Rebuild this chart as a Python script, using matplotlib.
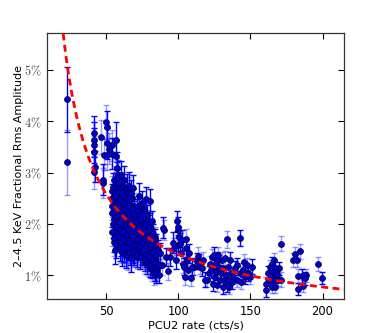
import numpy as np
import matplotlib
matplotlib.use("Agg")
import matplotlib.pyplot as plt

plt.rcParams['mathtext.fontset'] = 'cm'

# ---- data (rate in cts/s, rms in %) ; columns: (rate, [rms values], rms error)
dark_cols = [
    (22.9, [4.43], 0.63),
    (41.6, [3.77, 3.64, 3.53], 0.34),
    (41.8, [3.12], 0.30),
    (47.5, [2.86], 0.30),
    (50.2, [3.88], 0.32),
    (50.5, [3.57], 0.30),
    (53.6, [3.37], 0.30),
    (57.0, [3.63], 0.35),
    (57.3, [3.10], 0.30),
    (53.8, [2.50, 2.22], 0.28), (54.5, [2.72, 2.00], 0.28), (55.2, [2.45, 1.72], 0.26),
    (55.8, [2.60, 2.30, 1.50], 0.28), (56.5, [2.55, 1.95, 1.60], 0.27), (57.2, [2.90, 2.40, 2.10], 0.30),
    (58.0, [2.80, 2.20, 1.80], 0.28), (58.8, [2.62, 2.05, 1.75], 0.27), (59.5, [2.45, 1.90, 1.55], 0.26),
    (60.3, [2.95, 2.25, 1.65], 0.28), (61.0, [2.60, 2.10, 1.45], 0.27), (61.8, [2.40, 1.85, 1.70], 0.26),
    (62.5, [2.85, 2.30, 1.55], 0.28), (63.3, [2.50, 2.00, 1.40], 0.26), (64.0, [2.70, 2.15, 1.80], 0.27),
    (64.8, [2.35, 1.90, 1.55], 0.25), (65.5, [2.75, 2.20, 1.65], 0.27), (66.3, [2.50, 2.00, 1.45], 0.25),
    (67.0, [2.60, 1.80, 1.33], 0.26), (67.8, [2.30, 2.05, 1.60], 0.25), (68.5, [2.70, 1.90, 1.50], 0.26),
    (69.5, [2.20, 1.75, 1.45], 0.24), (70.5, [2.05, 1.85, 1.60], 0.24), (71.5, [2.25, 1.70, 1.40], 0.24),
    (72.5, [2.55, 1.95, 1.55], 0.25), (73.5, [2.10, 1.80, 1.35], 0.23), (74.5, [2.40, 1.65, 1.45], 0.24),
    (75.5, [2.20, 1.90, 1.50], 0.23), (76.5, [2.00, 1.70, 1.30], 0.22), (77.5, [2.48, 1.85, 1.40], 0.24),
    (78.5, [2.15, 1.60, 1.25], 0.22), (79.5, [1.95, 1.75, 1.35], 0.22), (80.5, [2.45, 1.55, 1.20], 0.23),
    (81.5, [2.05, 1.65, 1.15], 0.21), (82.5, [1.80, 1.45, 1.30], 0.21), (83.5, [1.70, 1.25, 1.10], 0.20),
    (84.5, [1.60, 1.40, 1.05], 0.20), (85.5, [1.50, 1.20], 0.19),
    (86.8, [1.00], 0.15), (87.3, [1.43], 0.20), (89.6, [1.93], 0.20), (91.2, [1.36], 0.18),
    (94.2, [1.36], 0.18), (96.5, [1.64], 0.20), (98.1, [1.30], 0.18), (98.8, [2.06], 0.20),
    (100.0, [1.59, 1.94], 0.20), (101.1, [1.62], 0.20), (102.3, [1.69], 0.20), (103.9, [1.17], 0.17),
    (105.1, [1.53], 0.18), (105.8, [1.30], 0.17), (107.4, [1.43], 0.18), (109.3, [1.17], 0.16),
    (112.7, [1.28], 0.16), (114.6, [1.27], 0.15), (116.2, [1.14], 0.15),
    (118.5, [0.92], 0.14), (121.5, [1.04], 0.15), (122.7, [1.10], 0.15), (123.8, [0.84], 0.14),
    (124.8, [1.40], 0.16), (126.2, [1.07], 0.15), (127.1, [1.30], 0.15), (128.5, [1.17], 0.15),
    (129.4, [1.04], 0.14), (130.8, [0.78], 0.14), (131.7, [0.91], 0.14), (133.1, [1.00], 0.14),
    (133.6, [0.81], 0.14), (134.7, [0.91], 0.14), (135.8, [1.30], 0.15), (137.0, [0.88], 0.14),
    (139.3, [1.14], 0.14), (141.0, [1.20], 0.14), (142.8, [1.73], 0.15), (144.7, [1.10], 0.14),
    (146.3, [0.97], 0.14), (148.6, [1.04], 0.14), (150.9, [1.17], 0.14),
    (160.7, [0.71], 0.13), (162.5, [1.05], 0.13), (163.7, [0.92], 0.13), (164.8, [1.23, 1.09], 0.13),
    (166.0, [1.17, 0.88], 0.13), (167.1, [0.94], 0.13), (168.3, [1.00], 0.13), (170.1, [1.14], 0.13),
    (182.9, [0.74], 0.12), (185.7, [0.99], 0.13), (188.0, [0.94], 0.13), (199.6, [0.95], 0.12),
]

light_cols = [
    (22.9, [3.20], 0.63),
    (41.6, [3.01, 3.40], 0.32),
    (46.5, [3.69], 0.33),
    (48.0, [2.80], 0.30),
    (48.3, [3.35], 0.30),
    (49.5, [3.99], 0.32),
    (50.2, [3.35], 0.30),
    (51.5, [3.47], 0.30),
    (54.0, [3.53], 0.30),
    (57.0, [3.32], 0.30),
    (58.0, [2.95], 0.30),
    (54.2, [2.65, 2.35, 1.85], 0.28), (55.5, [2.85, 2.10, 1.65], 0.28), (56.8, [2.70, 2.25, 1.75], 0.28),
    (57.6, [2.50, 2.00], 0.27), (58.4, [2.95, 2.35, 1.90], 0.29), (59.2, [2.70, 2.15, 1.70], 0.27),
    (60.0, [2.55, 2.00, 1.50], 0.26), (60.7, [2.40, 1.80, 1.55], 0.26), (61.5, [2.75, 2.20, 1.60], 0.27),
    (62.2, [2.55, 1.95, 1.45], 0.26), (63.0, [2.65, 2.10, 1.75], 0.27), (63.7, [2.40, 1.85, 1.50], 0.25),
    (64.5, [2.55, 2.00, 1.40], 0.26), (65.2, [2.45, 1.70, 1.35], 0.25), (66.0, [2.65, 2.10, 1.55], 0.26),
    (66.8, [2.35, 1.90, 1.50], 0.25), (67.5, [2.50, 2.15, 1.70], 0.26), (68.2, [2.00, 1.65, 1.40], 0.24),
    (69.0, [2.35, 1.85, 1.55], 0.25), (70.0, [2.15, 1.95, 1.50], 0.24), (71.0, [1.95, 1.65, 1.35], 0.23),
    (72.0, [2.35, 1.80, 1.50], 0.24), (73.0, [2.00, 1.70, 1.45], 0.23), (74.0, [2.25, 1.90, 1.40], 0.24),
    (75.0, [2.05, 1.60, 1.35], 0.23), (76.0, [2.30, 1.80, 1.45], 0.23), (77.0, [1.95, 1.55, 1.25], 0.22),
    (78.0, [2.20, 1.75, 1.35], 0.22), (79.0, [2.05, 1.50, 1.20], 0.22), (80.0, [1.85, 1.40, 1.15], 0.21),
    (81.0, [1.90, 1.60, 1.30], 0.21), (82.0, [1.70, 1.35, 1.10], 0.20), (83.0, [1.55, 1.20, 1.02], 0.20),
    (84.0, [1.75, 1.30], 0.20), (85.0, [1.45, 1.10], 0.19),
    (86.1, [1.23], 0.20), (88.4, [1.20], 0.20), (90.3, [1.88], 0.20), (93.1, [1.08], 0.17),
    (97.0, [1.53], 0.20), (99.5, [1.88], 0.20), (100.4, [1.75], 0.20), (101.8, [1.43], 0.18),
    (103.0, [1.23], 0.18), (104.6, [0.97], 0.15), (105.3, [1.71], 0.20), (106.5, [1.10], 0.17),
    (108.8, [0.94], 0.15), (110.9, [1.17], 0.16), (113.4, [1.38], 0.17), (115.0, [1.17], 0.15),
    (117.4, [1.30], 0.16),
    (120.1, [0.91], 0.14), (122.0, [1.23], 0.15), (123.4, [1.36], 0.16), (124.3, [1.17], 0.15),
    (125.5, [0.97], 0.14), (126.6, [0.81], 0.14), (127.8, [1.40], 0.16), (128.9, [0.91], 0.14),
    (130.1, [1.30], 0.15), (131.2, [1.14], 0.15), (132.4, [1.33], 0.15), (133.6, [1.70], 0.16),
    (134.2, [1.17], 0.14), (135.4, [0.78], 0.14), (136.3, [1.04], 0.14), (138.2, [0.97], 0.14),
    (140.5, [0.91], 0.14), (142.4, [1.04], 0.14), (143.3, [0.88], 0.14), (145.6, [1.27], 0.14),
    (147.5, [1.20], 0.14), (149.8, [0.97], 0.14),
    (160.7, [0.84], 0.13), (163.7, [1.17], 0.13), (164.8, [0.78], 0.13), (166.0, [1.30, 0.97], 0.13),
    (167.1, [1.07, 0.78], 0.13), (169.4, [0.92], 0.13), (171.3, [1.62, 0.92], 0.14),
    (179.8, [1.30], 0.14), (181.0, [1.41], 0.14), (182.2, [1.30], 0.14), (183.3, [0.99], 0.13),
    (184.5, [1.47], 0.15), (186.8, [0.80], 0.12), (188.7, [1.00], 0.12), (196.8, [1.22], 0.13),
]

# power-law fit shown as dashed curve: rms = fit_amp * rate**(-fit_index)
fit_amp = 76.9
fit_index = 0.868
fit_range = (20.0, 215.0)

xticks = [50, 100, 150, 200]
yticks = [1, 2, 3, 4, 5]
ytick_labels = [r'$1\%$', r'$2\%$', r'$3\%$', r'$4\%$', r'$5\%$']


def flatten(cols):
    xs, ys, es = [], [], []
    for x, yv, e in cols:
        for y in yv:
            xs.append(x); ys.append(y); es.append(e)
    return np.array(xs), np.array(ys), np.array(es)


dx, dy, de = flatten(dark_cols)
lx, ly, le = flatten(light_cols)

fig = plt.figure(figsize=(3.83, 3.33), dpi=100)
ax = fig.add_axes([0.1235, 0.102, 0.775, 0.799])

ax.errorbar(lx, ly, yerr=le, fmt='none', ecolor='#0000ff', alpha=0.4,
            elinewidth=1.0, capsize=2, capthick=1.0, zorder=2)
ax.errorbar(dx, dy, yerr=de, fmt='none', ecolor='#0000ff',
            elinewidth=1.0, capsize=2, capthick=1.0, zorder=3)
ax.plot(np.concatenate([lx, dx]), np.concatenate([ly, dy]), 'o', ms=4.2,
        mfc='#0000cc', mec='#000055', mew=0.6, zorder=4)

xf = np.linspace(fit_range[0], fit_range[1], 400)
ax.plot(xf, fit_amp * xf ** (-fit_index), '--', color='red', lw=2.0,
        dashes=(2.5, 1.6), zorder=5)

ax.set_xlim(9, 215)
ax.set_ylim(0.54, 5.72)
ax.set_xticks(xticks)
ax.set_yticks(yticks)
ax.set_yticklabels(ytick_labels)
ax.tick_params(direction='in', top=True, right=True, length=4, width=0.8,
               labelsize=8.3, pad=4)
ax.tick_params(axis='y', labelcolor='#444444', labelsize=8.8)
for s in ax.spines.values():
    s.set_linewidth(0.9)
    s.set_color('#333333')
ax.set_xlabel('PCU2 rate (cts/s)', fontsize=8.2, labelpad=2)
ax.set_ylabel('2–4.5 KeV Fractional Rms Amplitude', fontsize=8, labelpad=0)

fig.savefig('out.png', dpi=100)
